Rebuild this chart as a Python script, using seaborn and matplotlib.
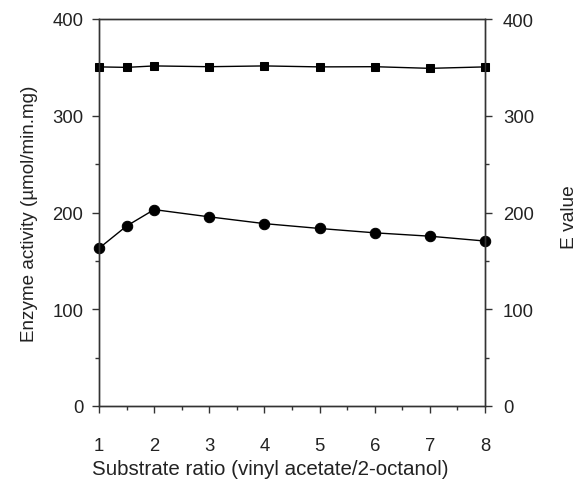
import matplotlib
matplotlib.use("Agg")
import matplotlib.pyplot as plt
import seaborn as sns
import pandas as pd
from matplotlib.ticker import MultipleLocator

sns.set_style("ticks")
plt.rcParams['font.family'] = ['Liberation Sans', 'DejaVu Sans']

ratio = [1, 1.5, 2, 3, 4, 5, 6, 7, 8]
enzyme_activity = [163, 186, 203, 195.5, 188.5, 183.5, 179, 175.5, 170.5]
e_value = [350.5, 350, 351.5, 350.7, 351.5, 350.5, 350.7, 349, 350.5]

df = pd.DataFrame({"ratio": ratio, "activity": enzyme_activity, "E": e_value})

fig = plt.figure(figsize=(5.78, 4.81), dpi=100)
ax = fig.add_axes([99 / 578, 74 / 481, 386 / 578, 387 / 481])
ax2 = ax.twinx()

sns.lineplot(data=df, x="ratio", y="activity", ax=ax, color="black", marker="o",
             markersize=7.5, markeredgecolor="black", linewidth=1, clip_on=False)
sns.lineplot(data=df, x="ratio", y="E", ax=ax2, color="black", marker="s",
             markersize=6, markeredgecolor="black", linewidth=1, clip_on=False)

for a in (ax, ax2):
    a.set_ylim(0, 400)
    a.yaxis.set_major_locator(MultipleLocator(100))
    a.yaxis.set_minor_locator(MultipleLocator(50))
    a.tick_params(axis='both', which='major', length=5, width=1, labelsize=13.3, color='#333333',
                  labelcolor='#222222')
    a.tick_params(axis='both', which='minor', length=3, width=1, color='#333333')
    for s in a.spines.values():
        s.set_linewidth(1)
        s.set_color('#333333')
ax.set_xlim(1, 8)
ax.xaxis.set_major_locator(MultipleLocator(1))
ax.xaxis.set_minor_locator(MultipleLocator(0.5))
ax.tick_params(axis='x', pad=17.5)
ax.tick_params(axis='y', pad=6.3)
ax2.tick_params(axis='y', pad=8)

ax.set_xlabel("Substrate ratio (vinyl acetate/2-octanol)", fontsize=14.8, color='#222222')
ax.xaxis.set_label_coords(0.444, -0.136)
ax.set_ylabel("Enzyme activity (µmol/min.mg)", fontsize=13.6, color='#222222')
ax.yaxis.set_label_coords(-0.158, 0.5)
ax2.set_ylabel("E value", fontsize=13.8, color='#222222')
ax2.yaxis.set_label_coords(1.197, 0.49)

fig.savefig("out.png", dpi=100)
